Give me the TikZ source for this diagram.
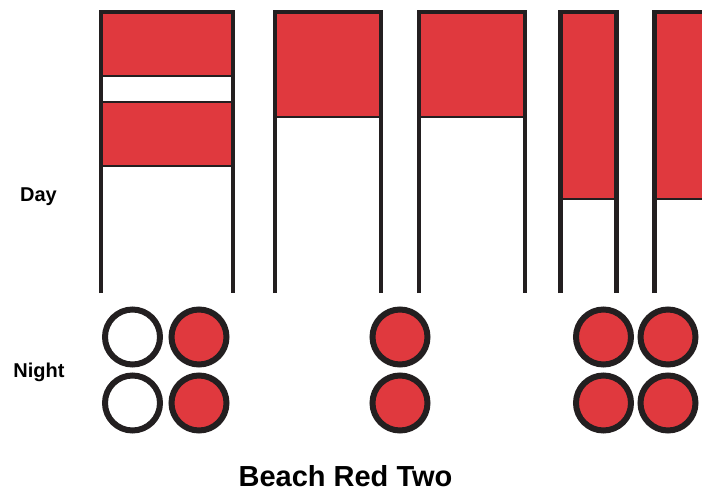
\documentclass[tikz,border=0pt]{standalone}
\usepackage{fontspec}
\setmainfont{Liberation Sans}
\definecolor{flagred}{HTML}{E0393E}
\definecolor{pole}{HTML}{231F20}
\begin{document}
\begin{tikzpicture}[x=1pt, y=-1pt,
  frame/.style={draw=pole, line width=4.5pt},
  band/.style={fill=flagred, draw=pole, line width=2pt},
  lamp/.style={circle, draw=pole, line width=6pt, minimum size=55pt, inner sep=0pt, fill=white},
  lampon/.style={lamp, fill=flagred},
  lbl/.style={font=\bfseries\fontsize{20}{24}\selectfont, anchor=base}]
  \clip (0,0) rectangle (702,493);
  % day signals
  \draw[band] (101,12) rectangle (233,76);
  \draw[band] (101,102) rectangle (233,166);
  \draw[band] (275,12) rectangle (381,117);
  \draw[band] (419,12) rectangle (525,117);
  \draw[band] (560.5,12) rectangle (616.5,199);
  \draw[band] (654.5,12) rectangle (720,199);
  \draw[frame] (101,293) -- (101,12) -- (233,12) -- (233,293);
  \draw[frame] (275,293) -- (275,12) -- (381,12) -- (381,293);
  \draw[frame] (419,293) -- (419,12) -- (525,12) -- (525,293);
  \draw[frame] (560.5,293) -- (560.5,12) -- (616.5,12) -- (616.5,293);
  \draw[frame] (654.5,293) -- (654.5,12) -- (720,12);
  % night signals
  \node[lamp] (lampa) at (132.5,337) {};
  \node[lampon] (lampb) at (199,337) {};
  \node[lamp] (lampc) at (132.5,403) {};
  \node[lampon] (lampd) at (199,403) {};
  \node[lampon] (lampe) at (400,337) {};
  \node[lampon] (lampf) at (400,403) {};
  \node[lampon] (lampg) at (603.5,337) {};
  \node[lampon] (lamph) at (668,337) {};
  \node[lampon] (lampi) at (603.5,403) {};
  \node[lampon] (lampj) at (668,403) {};
  % labels
  \node[lbl] (day) at (38.5,201) {Day};
  \node[lbl] (night) at (39,377) {Night};
  \node[lbl, font=\bfseries\fontsize{29}{34}\selectfont] (title) at (345.5,486.5) {Beach Red Two};
\end{tikzpicture}
\end{document}
